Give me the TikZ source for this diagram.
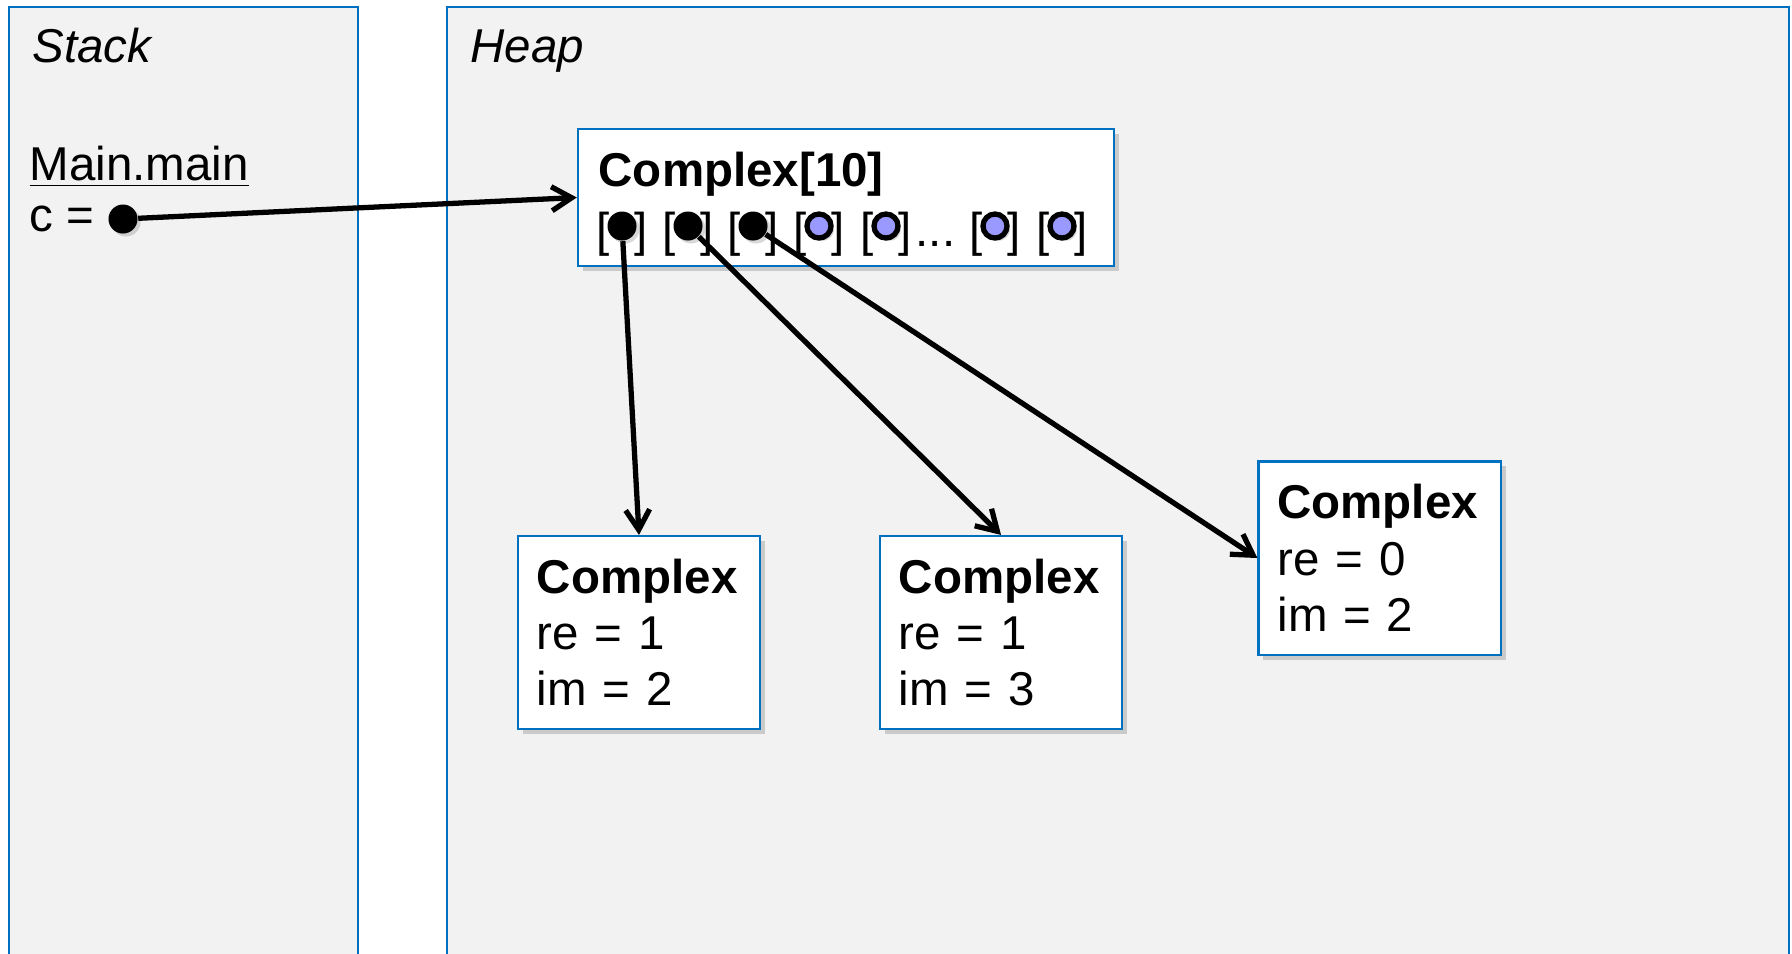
\documentclass[tikz,border=0pt]{standalone}
\usepackage{fontspec}
\setmainfont{Liberation Sans}
\usetikzlibrary{shadows}
\usetikzlibrary{arrows.meta}
\definecolor{frameblue}{HTML}{0070C0}
\definecolor{panelgray}{HTML}{F2F2F2}
\definecolor{slotblue}{HTML}{9999FF}
\tikzset{panel/.style={draw=frameblue, fill=panelgray, line width=0.6pt},
            txt/.style={font=\fontsize{13.5}{16}\selectfont, inner sep=0pt},
            object/.style={txt, rectangle, draw=frameblue, fill=white, line width=0.6pt,
                drop shadow={shadow xshift=0.05cm, shadow yshift=-0.05cm, opacity=0.35}},
            complex/.style={object, minimum width=2.42cm, minimum height=1.93cm,
                text width=2.04cm, align=left},
            ref/.style={circle, fill=black, inner sep=0pt, minimum size=0.29cm,
                drop shadow={shadow xshift=0.03cm, shadow yshift=-0.03cm, opacity=0.3}},
            nullref/.style={ref, draw=black, fill=slotblue, line width=1.5pt, minimum size=0.24cm},
            pointer/.style={line width=1.5pt, -{Straight Barb[length=2mm,width=2.4mm]}}}

\begin{document}
\begin{tikzpicture}[x=0.01cm, y=-0.01cm]
            \useasboundingbox (0,0) rectangle (1792,953);
            % stack and heap
            \draw [panel] (9,7) rectangle (358,970);
            \draw [panel] (447,7) rectangle (1789,970);
            \node [txt, anchor=base west] (stacklbl) at (32,62) {\itshape Stack};
            \node [txt, anchor=base west] (heaplbl) at (470,62) {\itshape Heap};
            \node [txt, anchor=base west] (frame) at (29,180) {\underline{Main.main}};
            \node [txt, anchor=base west] (cvar) at (29,231) {c =};
            \node [ref] (cref) at (123,219) {};
            % the array
            \node [object, minimum width=5.36cm, minimum height=1.37cm] (arr) at (846,197.5) {};
            \node [txt, anchor=base west] (arrlbl) at (598,186) {\bfseries Complex[10]};
            \foreach \x/\name in {622/s1, 688/s2, 753/s3, 819/s4, 886/s5, 995/s6, 1062/s7}
                \node [txt, anchor=base] (\name) at (\x,246) {[\hspace{0.25cm}]};
            \node [txt, anchor=base west] (more) at (915,246) {...};
            \node [ref] (d1) at (622,226) {};
            \node [ref] (d2) at (688,226) {};
            \node [ref] (d3) at (753,226) {};
            \foreach \x/\name in {819/d4, 886/d5, 995/d6, 1062/d7}
                \node [nullref] (\name) at (\x,226) {};
            % the objects
            \node [complex] (obj1) at (639,632.5) {\textbf{Complex}\\re = 1\\im = 2};
            \node [complex] (obj2) at (1001,632.5) {\textbf{Complex}\\re = 1\\im = 3};
            \node [complex] (obj3) at (1379.5,558) {\textbf{Complex}\\re = 0\\im = 2};
            % references
            \draw [pointer] (cref) -- (arr.west);
            \draw [pointer] (d1) -- (obj1.north);
            \draw [pointer] (d2) -- (obj2.north);
            \draw [pointer] (d3) -- (obj3.west);
        \end{tikzpicture}
\end{document}
